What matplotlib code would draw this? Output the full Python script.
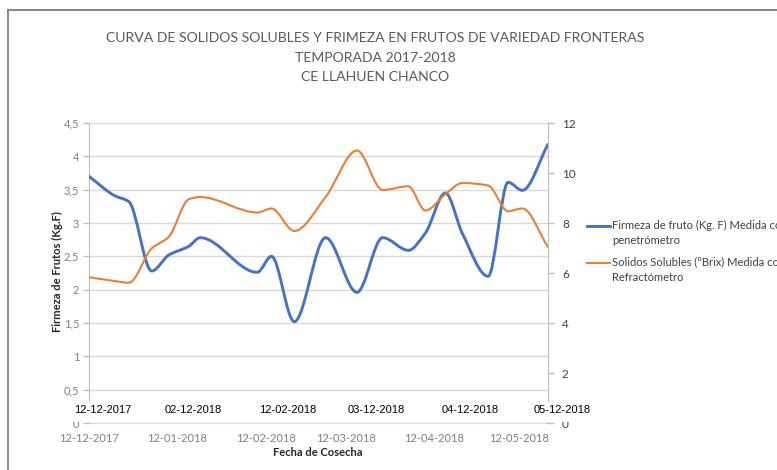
import matplotlib
matplotlib.use("Agg")
import matplotlib.pyplot as plt
import matplotlib.dates as mdates
from matplotlib.path import Path
from matplotlib.patches import PathPatch, Rectangle
from matplotlib.lines import Line2D
import numpy as np
import datetime as dt

# ---------------- data ----------------
fechas = ["2017-12-12", "2017-12-21", "2017-12-26", "2018-01-03", "2018-01-09",
          "2018-01-16", "2018-01-20", "2018-02-09", "2018-02-14", "2018-02-22",
          "2018-03-05", "2018-03-16", "2018-03-25", "2018-04-03", "2018-04-09",
          "2018-04-16", "2018-04-22", "2018-05-01", "2018-05-08", "2018-05-13",
          "2018-05-22"]
firmeza = [3.70, 3.41, 3.32, 2.28, 2.52, 2.65, 2.78, 2.26, 2.50, 1.52,
           2.78, 1.96, 2.78, 2.59, 2.85, 3.45, 2.84, 2.20, 3.61, 3.49, 4.18]
solidos = [5.83, 5.68, 5.61, 6.98, 7.45, 8.95, 9.04, 8.42, 8.58, 7.68,
           9.04, 10.90, 9.32, 9.47, 8.50, 9.15, 9.60, 9.50, 8.47, 8.58, 7.04]

left_ticks = [0, 0.5, 1, 1.5, 2, 2.5, 3, 3.5, 4, 4.5]
right_ticks = [0, 2, 4, 6, 8, 10, 12]
month_ticks = ["2017-12-12", "2018-01-12", "2018-02-12", "2018-03-12",
               "2018-04-12", "2018-05-12"]
overlay_labels = ["12-12-2017", "02-12-2018", "12-02-2018", "03-12-2018",
                  "04-12-2018", "05-12-2018"]

title_lines = ["CURVA DE SOLIDOS SOLUBLES Y FRIMEZA EN FRUTOS DE VARIEDAD FRONTERAS",
               "TEMPORADA 2017-2018", "CE LLAHUEN CHANCO"]
legend_labels = ["Firmeza de fruto (Kg. F) Medida con\npenetrómetro",
                 "Solidos Solubles (°Brix) Medida con\nRefractómetro"]

BLUE = "#4472C4"
ORANGE = "#ED7D31"
W, H = 777, 470


def smooth_path(x, y):
    """Shape-preserving cubic (Bezier) path through the data points."""
    x = np.asarray(x, float); y = np.asarray(y, float)
    h = np.diff(x)
    d = np.diff(y) / h
    n = len(x)
    m = np.zeros(n)
    m[0], m[-1] = d[0], d[-1]
    for i in range(1, n - 1):
        if d[i - 1] * d[i] <= 0:
            m[i] = 0.0
        else:
            w1 = 2 * h[i] + h[i - 1]
            w2 = h[i] + 2 * h[i - 1]
            m[i] = (w1 + w2) / (w1 / d[i - 1] + w2 / d[i])
    verts = [(x[0], y[0])]
    codes = [Path.MOVETO]
    for i in range(n - 1):
        hh = h[i]
        verts += [(x[i] + hh / 3, y[i] + m[i] * hh / 3),
                  (x[i + 1] - hh / 3, y[i + 1] - m[i + 1] * hh / 3),
                  (x[i + 1], y[i + 1])]
        codes += [Path.CURVE4] * 3
    return Path(verts, codes)


xd = mdates.date2num([dt.datetime.strptime(f, "%Y-%m-%d") for f in fechas])
xm = mdates.date2num([dt.datetime.strptime(f, "%Y-%m-%d") for f in month_ticks])

fig = plt.figure(figsize=(W / 100, H / 100), dpi=100)
fig.patch.set_facecolor("white")

ax = fig.add_axes([89 / W, (H - 423) / H, (548 - 89) / W, (423 - 123) / H])
ax2 = ax.twinx()

ax.set_xlim(xd[0], xd[-1])
ax.set_ylim(0, 4.5)
ax2.set_ylim(0, 12)

ax.add_patch(PathPatch(smooth_path(xd, firmeza), fill=False, edgecolor=BLUE,
                       lw=2.1, capstyle="round", joinstyle="round", zorder=3))
ax2.add_patch(PathPatch(smooth_path(xd, solidos), fill=False, edgecolor=ORANGE,
                        lw=1.5, capstyle="round", joinstyle="round", zorder=3))

# left axis
ax.set_yticks(left_ticks)
ax.set_yticklabels([("%g" % v).replace(".", ",") for v in left_ticks])
ax.yaxis.grid(True, color="#d9d9d9", lw=1.0)
ax.set_axisbelow(True)
ax.tick_params(axis="y", length=4, width=1, color="#bfbfbf", pad=3,
               labelsize=8, labelcolor="#7f7f7f")
for s in ["top", "right"]:
    ax.spines[s].set_visible(False)
ax.spines["left"].set_color("#bfbfbf")
ax.spines["bottom"].set_color("#d9d9d9")
ax.set_xticks(xm)
ax.set_xticklabels([dt.datetime.strptime(f, "%Y-%m-%d").strftime("%d-%m-%Y")
                    for f in month_ticks])
ax.tick_params(axis="x", length=0, pad=7, labelsize=8, labelcolor="#7f7f7f")
for lab in ax.get_xticklabels() + ax.get_yticklabels():
    lab.set_family("Lato")

# right axis
ax2.set_yticks(right_ticks)
ax2.tick_params(axis="y", length=4, width=1, color="#bfbfbf", pad=6,
                labelsize=8.5, labelcolor="#404040")
for s in ["top", "left", "bottom"]:
    ax2.spines[s].set_visible(False)
ax2.spines["right"].set_color("#bfbfbf")
for lab in ax2.get_yticklabels():
    lab.set_family("Lato")

# axis labels
fig.text(57 / W, 1 - 272 / H, "Firmeza de Frutos (Kg.F)", rotation=90,
         ha="center", va="center", fontsize=8, fontweight="bold",
         family="Lato", color="#262626")
fig.text(318 / W, 1 - 453 / H, "Fecha de Cosecha", ha="center", va="center",
         fontsize=8, fontweight="bold", family="Lato", color="#262626")

# title
for txt, yy in zip(title_lines, [38, 58, 77]):
    fig.text(375 / W, 1 - yy / H, txt, ha="center", va="center",
             fontsize=10.1, family="Lato", color="#595959")

# white overlay box with typed labels
fig.add_artist(Rectangle((60 / W, 1 - 421.8 / H), 540 / W, 19.8 / H,
                         transform=fig.transFigure, facecolor="white",
                         edgecolor="none", zorder=5))
for txt, xx in zip(overlay_labels, [103, 193, 288, 376, 470, 562]):
    fig.text(xx / W, 1 - 410 / H, txt, ha="center", va="center",
             fontsize=8, family="Liberation Sans", color="black", zorder=6)

# legend (handle aligned with first text line)
for col, lw, lab, yy in zip([BLUE, ORANGE], [2.1, 1.5], legend_labels, [226.5, 263]):
    fig.add_artist(Line2D([587 / W, 610 / W], [1 - yy / H, 1 - yy / H],
                          transform=fig.transFigure, color=col, lw=lw))
    fig.text(612 / W, 1 - (yy - 6.5) / H, lab, ha="left", va="top",
             fontsize=8, family="Lato", color="#404040", linespacing=1.45)

# border
fig.add_artist(Line2D([8 / W, 1], [1 - 10 / H, 1 - 10 / H], transform=fig.transFigure,
                      color="#7f7f7f", lw=1.3))
fig.add_artist(Line2D([8 / W, 8 / W], [0, 1 - 10 / H], transform=fig.transFigure,
                      color="#7f7f7f", lw=1.3))

fig.savefig("out.png", dpi=100)
